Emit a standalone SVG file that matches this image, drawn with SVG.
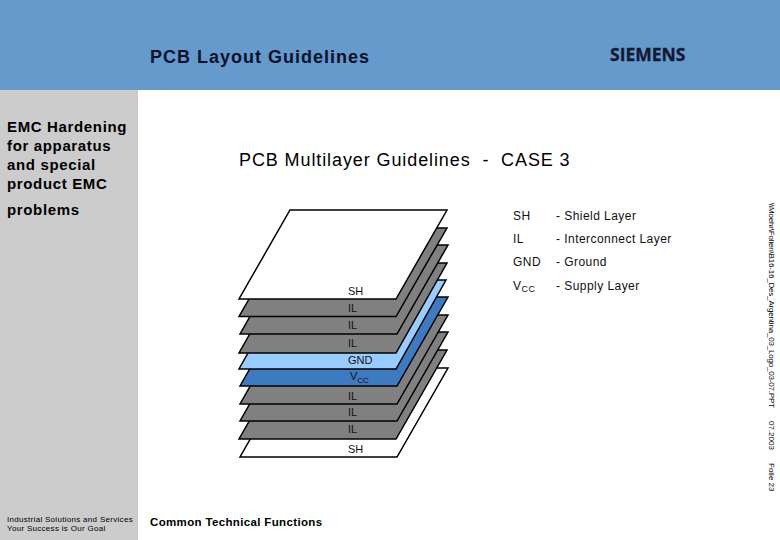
<svg xmlns="http://www.w3.org/2000/svg" width="780" height="540" viewBox="0 0 780 540">
<style>
text{font-family:"Liberation Sans",Arial,sans-serif;fill:#000}
.ly{stroke:#000;stroke-width:1.5;stroke-linejoin:miter}
.g{fill:#808080}.w{fill:#fff}.lb{fill:#99ccff}.b{fill:#3e7abf}
.t{font-size:11px;fill:#111}
.leg{font-size:12px;fill:#111;letter-spacing:.45px}
.side{font-size:8px}
.h{font-size:15px;letter-spacing:.65px;font-weight:bold}
</style>
<rect width="780" height="540" fill="#fff"/>
<rect id="header" width="780" height="90" fill="#6699cc"/>
<rect id="sidebar" x="0" y="90" width="138" height="450" fill="#cccccc"/>
<text x="150" y="63" style="font-size:18px;letter-spacing:1px;font-weight:bold;fill:#06122b">PCB Layout Guidelines</text>
<text id="logo" x="610" y="61" style="font-family:'Open Sans',sans-serif;font-size:17.500px;font-weight:700;fill:#101a33;stroke:#101a33;stroke-width:.3px">SIEMENS</text>
<g id="sidebar-text">
<text class="h" x="7" y="132">EMC Hardening</text>
<text class="h" x="7" y="151">for apparatus</text>
<text class="h" x="7" y="170">and special</text>
<text class="h" x="7" y="189">product EMC</text>
<text class="h" x="7" y="215">problems</text>
<text x="7" y="522" style="font-size:8px;letter-spacing:.3px">Industrial Solutions and Services</text>
<text x="7" y="531" style="font-size:8px;letter-spacing:.3px">Your Success is Our Goal</text>
</g>
<text x="150" y="526" style="font-size:11.500px;font-weight:bold;letter-spacing:.35px">Common Technical Functions</text>
<text x="239" y="166" xml:space="preserve" style="font-size:18px;letter-spacing:.9px;white-space:pre">PCB Multilayer Guidelines  -  CASE 3</text>
<g id="layers">
<g id="layer-sh-bottom"><polygon class="ly w" points="240,457 397,457 448,368 291,368"/><text class="t" x="348" y="453">SH</text></g>
<g id="layer-il-6"><polygon class="ly g" points="239,439 396,439 447,350 290,350"/><text class="t" x="348" y="433">IL</text></g>
<g id="layer-il-5"><polygon class="ly g" points="240,421 397,421 448,332 291,332"/><text class="t" x="348" y="416">IL</text></g>
<g id="layer-il-4"><polygon class="ly g" points="240,404 397,404 448,315 291,315"/><text class="t" x="348" y="400">IL</text></g>
<g id="layer-vcc"><polygon class="ly b" points="240,386 397,386 448,297 291,297"/><text class="t" x="350" y="380">V<tspan font-size="8" dy="3">CC</tspan></text></g>
<g id="layer-gnd"><polygon class="ly lb" points="239,369 396,369 446,280 289,280"/><text class="t" x="348" y="364">GND</text></g>
<g id="layer-il-3"><polygon class="ly g" points="239,353 396,353 447,263 290,263"/><text class="t" x="348" y="347">IL</text></g>
<g id="layer-il-2"><polygon class="ly g" points="240,334 397,334 448,245 291,245"/><text class="t" x="348" y="329">IL</text></g>
<g id="layer-il-1"><polygon class="ly g" points="239,316.500 396,316.500 447,228 290,228"/><text class="t" x="348" y="312">IL</text></g>
<g id="layer-sh-top"><polygon class="ly w" points="239,299 396,299 447,210 290,210"/><text class="t" x="348" y="295">SH</text></g>
</g>
<g id="legend">
<text class="leg" x="513" y="220">SH</text><text class="leg" x="556" y="220">- Shield Layer</text>
<text class="leg" x="513" y="243">IL</text><text class="leg" x="556" y="243">- Interconnect Layer</text>
<text class="leg" x="513" y="266">GND</text><text class="leg" x="556" y="266">- Ground</text>
<text class="leg" x="513" y="290">V<tspan font-size="9" dy="2">CC</tspan></text><text class="leg" x="556" y="290">- Supply Layer</text>
</g>
<g id="side-label">
<text class="side" transform="translate(769,203) rotate(90)" textLength="205" lengthAdjust="spacing">\\Moehr\Folien\B16-16_Des_Argentina_03_Logo_03-07.PPT</text>
<text class="side" transform="translate(769,421) rotate(90)">07.2003</text>
<text class="side" transform="translate(769,463) rotate(90)">Folie  23</text>
</g>
</svg>
